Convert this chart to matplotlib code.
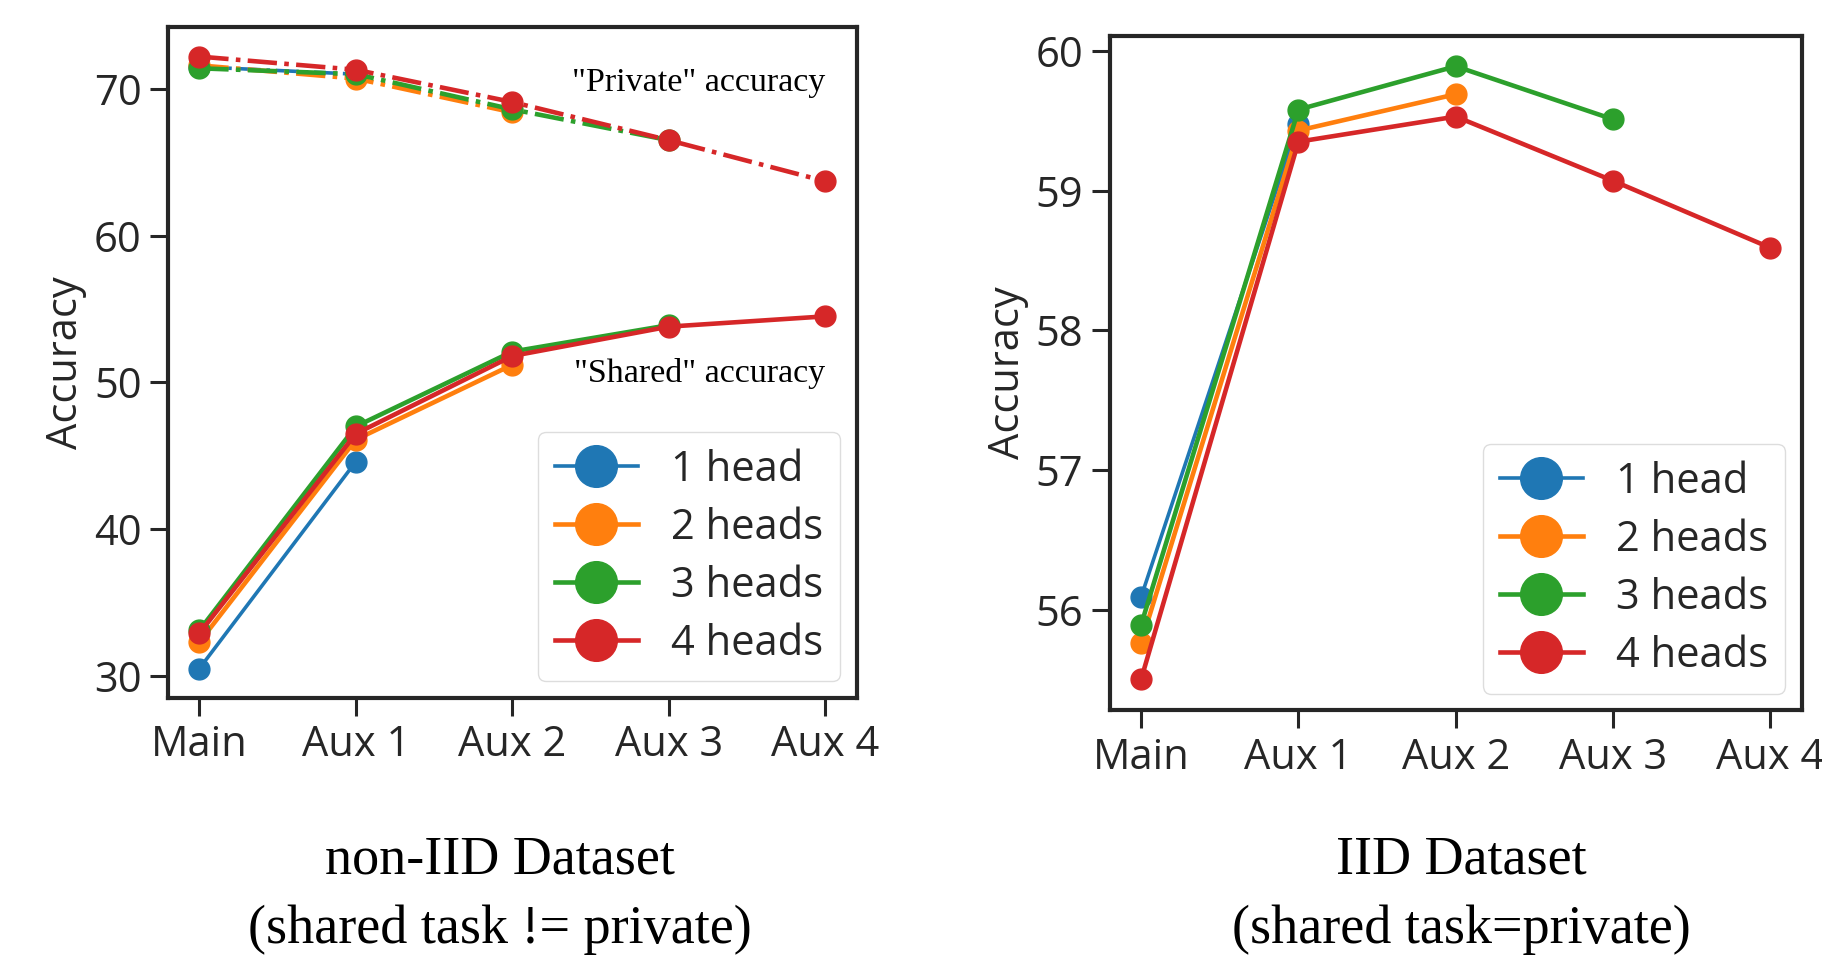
import matplotlib
matplotlib.use("Agg")
import matplotlib.pyplot as plt

plt.rcParams["font.family"] = ["Open Sans", "DejaVu Sans"]

categories = ["Main", "Aux 1", "Aux 2", "Aux 3", "Aux 4"]
series_labels = ["1 head", "2 heads", "3 heads", "4 heads"]
colors = ["#1f77b4", "#ff7f0e", "#2ca02c", "#d62728"]

# non-IID: "shared" accuracy (solid) per number of heads
shared_1 = [30.5, 44.6]
shared_2 = [32.3, 46.1, 51.2]
shared_3 = [33.1, 47.0, 52.1, 53.9]
shared_4 = [32.9, 46.5, 51.8, 53.8, 54.5]

# non-IID: "private" accuracy (dash-dot)
private_1 = [71.5, 71.0]
private_2 = [71.6, 70.7, 68.4]
private_3 = [71.4, 71.0, 68.6, 66.5]
private_4 = [72.2, 71.3, 69.1, 66.5, 63.7]

# IID dataset
iid_1 = [56.09, 59.48]
iid_2 = [55.76, 59.43, 59.69]
iid_3 = [55.89, 59.58, 59.89, 59.51]
iid_4 = [55.50, 59.35, 59.53, 59.07, 58.59]

shared = [shared_1, shared_2, shared_3, shared_4]
private = [private_1, private_2, private_3, private_4]
iid = [iid_1, iid_2, iid_3, iid_4]

TICK_FS = 30
SERIF = ["Liberation Serif", "DejaVu Serif"]
SPINE = "#262626"


def style_axes(ax):
    for s in ax.spines.values():
        s.set_linewidth(3)
        s.set_color(SPINE)
    ax.tick_params(axis="both", length=13, width=2.2, color=SPINE,
                   labelsize=TICK_FS, labelcolor="#262626", pad=6)
    ax.set_xticks(range(len(categories)))
    ax.set_xticklabels(categories)
    ax.set_ylabel("Accuracy", fontsize=TICK_FS, color="#262626", labelpad=5)


def add_lines(ax, data, ls="-", label=True):
    for i, vals in enumerate(data):
        xs = list(range(len(vals)))
        lw = 2.6 if i == 0 else 3.3
        ax.plot(xs, vals, ls, color=colors[i], lw=lw, marker="o", markersize=15,
                label=series_labels[i] if label else None, zorder=3 + i)


fig = plt.figure(figsize=(18.22, 9.61), dpi=100)

ax1 = fig.add_axes([0.0922, 0.2737, 0.378, 0.698])
add_lines(ax1, shared)
add_lines(ax1, private, ls="-.", label=False)
style_axes(ax1)
ax1.set_yticks([30, 40, 50, 60, 70])
ax1.set_xlim(-0.2, 4.2)
ax1.set_ylim(28.5, 74.2)
ax1.text(4.0, 70.4, '"Private" accuracy', fontsize=24.5, family=SERIF,
         ha="right", va="center")
ax1.text(4.0, 50.6, '"Shared" accuracy', fontsize=24.5, family=SERIF,
         ha="right", va="center")

ax2 = fig.add_axes([0.609, 0.261, 0.380, 0.702])
add_lines(ax2, iid)
style_axes(ax2)
ax2.set_yticks([56, 57, 58, 59, 60])
ax2.set_xlim(-0.2, 4.2)
ax2.set_ylim(55.28, 60.11)

for ax in (ax1, ax2):
    leg = ax.legend(loc="lower right", fontsize=30, markerscale=2.0,
                    handlelength=2.0, labelspacing=0.385, borderpad=0.4,
                    handletextpad=0.8, borderaxespad=0.4, framealpha=0.8,
                    edgecolor="#d5d5d5")
    for t in leg.get_texts():
        t.set_color("#262626")

fig.text(0.2744, 0.105, "non-IID Dataset", fontsize=39, family=SERIF,
         ha="center", va="center")
fig.text(0.2744, 0.032, "(shared task != private)", fontsize=39, family=SERIF,
         ha="center", va="center")
fig.text(0.8019, 0.105, "IID Dataset", fontsize=39, family=SERIF,
         ha="center", va="center")
fig.text(0.8019, 0.032, "(shared task=private)", fontsize=39, family=SERIF,
         ha="center", va="center")

fig.savefig("out.png", dpi=100, facecolor="white")
